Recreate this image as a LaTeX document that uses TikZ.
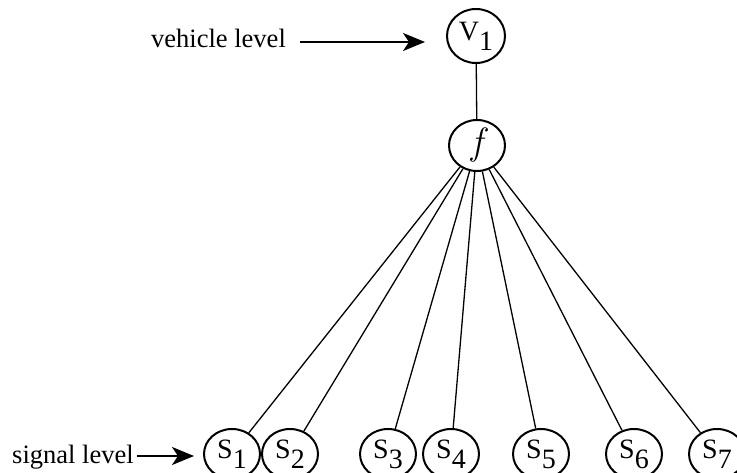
\documentclass[tikz,border=0pt]{standalone}
\usepackage{fontspec}
\setmainfont{Liberation Serif}
\newfontfamily\lmfont{Latin Modern Roman}
\usetikzlibrary{shapes.geometric,arrows.meta}
\tikzset{
  lvl/.style={draw, ellipse, line width=2pt, minimum width=56pt, minimum height=50pt, inner sep=0pt, font=\fontsize{28}{28}\selectfont},
  conn/.style={line width=1.3pt},
  lbl/.style={font=\fontsize{26.5}{26.5}\selectfont, inner sep=0pt},
  pointer/.style={line width=2.2pt, -{Stealth[length=22pt,width=18pt,inset=6pt]}}
}
\newcommand{\lab}[2]{#1\raisebox{-10pt}{#2}}
\begin{document}
\begin{tikzpicture}[x=1pt,y=-1pt]
\useasboundingbox (0,0) rectangle (737,473);
\node[lvl, minimum width=58pt, minimum height=54pt] (v1) at (476,36) {\lab{V}{1}};
\node[lvl, minimum height=51pt] (f) at (477,145.5) {\lmfont\fontsize{38}{38}\selectfont\itshape f};
\node[lvl] (s1) at (232,454) {\lab{S}{1}};
\node[lvl] (s2) at (290,454) {\lab{S}{2}};
\node[lvl] (s3) at (388,454) {\lab{S}{3}};
\node[lvl] (s4) at (451,454) {\lab{S}{4}};
\node[lvl] (s5) at (541,454) {\lab{S}{5}};
\node[lvl] (s6) at (634,454) {\lab{S}{6}};
\node[lvl] (s7) at (717,454) {\lab{S}{7}};
\draw[conn] (v1) -- (f);
\foreach \s in {s1,s2,s3,s4,s5,s6,s7} \draw[conn] (f) -- (\s);
\node[lbl, anchor=base west] (vl) at (151,48) {vehicle level};
\node[lbl, anchor=base west] (sl) at (12,463) {signal level};
\coordinate (va) at (300,42);
\coordinate (sa) at (137,456);
\draw[pointer] (va) -- (425,42);
\draw[pointer] (sa) -- (194,456);
\end{tikzpicture}
\end{document}
